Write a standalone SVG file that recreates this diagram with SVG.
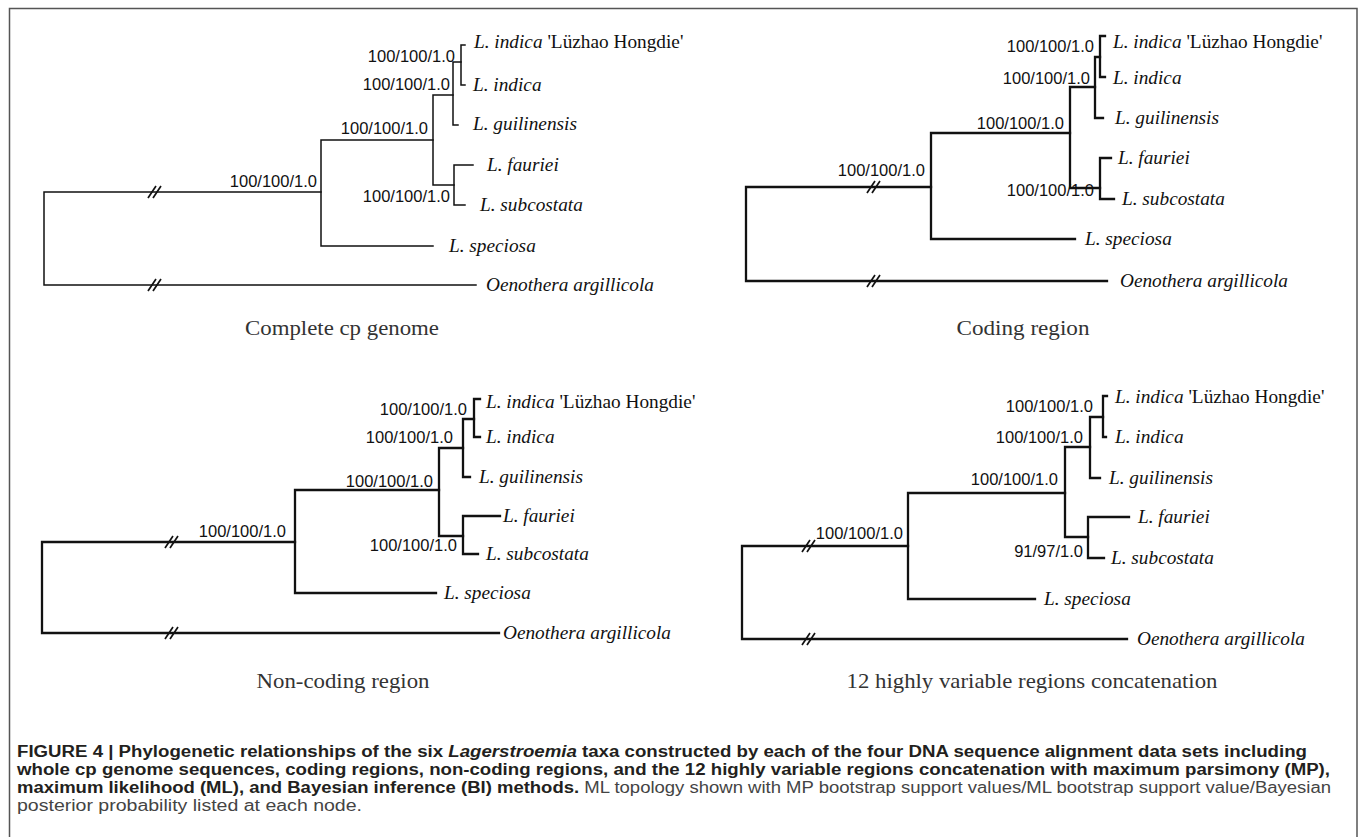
<svg xmlns="http://www.w3.org/2000/svg" width="1360" height="837" viewBox="0 0 1360 837">
<style>
.bg{fill:#fff}
.frame{fill:none;stroke:#555;stroke-width:1.5}
.br1{fill:none;stroke:#111;stroke-width:1.5;stroke-linecap:square}
.br2{fill:none;stroke:#111;stroke-width:2.3;stroke-linecap:square}
.brk{fill:none;stroke:#111;stroke-width:1.7}
.tax{font-family:"Liberation Serif",serif;font-size:19.3px;fill:#111}
.it{font-style:italic}
.sup{font-family:"Liberation Sans",sans-serif;font-size:16.5px;fill:#111;text-anchor:end}
.ttl{font-family:"Liberation Serif",serif;font-size:22px;fill:#333;text-anchor:middle}
.cap{font-family:"Liberation Sans",sans-serif;font-size:16px;fill:#231f20}
.b{font-weight:bold}
.r{fill:#444}
</style>
<rect class="bg" x="0" y="0" width="1360" height="837"/>
<path class="frame" d="M9.5,837 V8.5 H1357 V837"/>

<g id="connectors">
  <g id="t1-edges" class="br1">
    <path d="M44,192 V285 M44,192 H321 M44,285 H476"/>
    <path d="M321,140 V246 M321,140 H433 M321,246 H433"/>
    <path d="M433,95 V185 M433,95 H453 M433,185 H454"/>
    <path d="M453,62 V125 M453,125 H458 M453,62 H461"/>
    <path d="M461,45 V85 M461,45 H465 M461,85 H465"/>
    <path d="M454,165 V205 M454,165 H473 M454,205 H465"/>
  </g>
  <g id="t1-breaks" class="brk">
    <path d="M148,198 L156,186 M153,198 L161,186"/>
    <path d="M148,291 L156,279 M153,291 L161,279"/>
  </g>
  <g id="t2-edges" class="br2">
    <path d="M746,187 V281 M746,187 H931 M746,281 H1107"/>
    <path d="M931,133 V239 M931,133 H1070 M931,239 H1075"/>
    <path d="M1070,87 V188 M1070,87 H1095 M1070,188 H1100"/>
    <path d="M1095,57 V118 M1095,118 H1103 M1095,57 H1100"/>
    <path d="M1100,36 V77 M1100,36 H1105 M1100,77 H1105"/>
    <path d="M1100,158 V199 M1100,158 H1111 M1100,199 H1114"/>
  </g>
  <g id="t2-breaks" class="brk">
    <path d="M867,193 L875,181 M872,193 L880,181"/>
    <path d="M867,287 L875,275 M872,287 L880,275"/>
  </g>
  <g id="t3-edges" class="br2">
    <path d="M42,542 V633 M42,542 H295 M42,633 H499"/>
    <path d="M295,490 V593 M295,490 H439 M295,593 H436"/>
    <path d="M439,448 V536 M439,448 H463 M439,536 H463"/>
    <path d="M463,419 V477 M463,477 H470 M463,419 H474"/>
    <path d="M474,399 V437 M474,399 H480 M474,437 H480"/>
    <path d="M463,516 V554 M463,516 H500 M463,554 H478"/>
  </g>
  <g id="t3-breaks" class="brk">
    <path d="M165,548 L173,536 M170,548 L178,536"/>
    <path d="M165,639 L173,627 M170,639 L178,627"/>
  </g>
  <g id="t4-edges" class="br2">
    <path d="M742,546 V639 M742,546 H908 M742,639 H1127"/>
    <path d="M908,493 V599 M908,493 H1065 M908,599 H1035"/>
    <path d="M1065,447 V537 M1065,447 H1090 M1065,537 H1088"/>
    <path d="M1090,417 V478 M1090,478 H1100 M1090,417 H1103"/>
    <path d="M1103,396 V437 M1103,396 H1107 M1103,437 H1106"/>
    <path d="M1088,517 V558 M1088,517 H1129 M1088,558 H1104"/>
  </g>
  <g id="t4-breaks" class="brk">
    <path d="M802,552 L810,540 M807,552 L815,540"/>
    <path d="M802,645 L810,633 M807,645 L815,633"/>
  </g>
</g>

<g id="tree1-labels">
  <g id="t1-lh"><text class="tax" x="474" y="48"><tspan class="it">L. indica</tspan> 'Lüzhao Hongdie'</text></g>
  <g id="t1-li"><text class="tax it" x="473" y="91">L. indica</text></g>
  <g id="t1-lg"><text class="tax it" x="473" y="130">L. guilinensis</text></g>
  <g id="t1-lf"><text class="tax it" x="487" y="171">L. fauriei</text></g>
  <g id="t1-ls"><text class="tax it" x="480" y="211">L. subcostata</text></g>
  <g id="t1-lsp"><text class="tax it" x="449" y="252">L. speciosa</text></g>
  <g id="t1-oa"><text class="tax it" x="486" y="291">Oenothera argillicola</text></g>
  <g id="t1-support">
    <text class="sup" x="317" y="187">100/100/1.0</text>
    <text class="sup" x="428" y="134">100/100/1.0</text>
    <text class="sup" x="455" y="62">100/100/1.0</text>
    <text class="sup" x="450" y="90">100/100/1.0</text>
    <text class="sup" x="450" y="202">100/100/1.0</text>
  </g>
  <g id="t1-title"><text class="ttl" x="342" y="335" textLength="194" lengthAdjust="spacingAndGlyphs">Complete cp genome</text></g>
</g>

<g id="tree2-labels">
  <g id="t2-lh"><text class="tax" x="1113" y="48"><tspan class="it">L. indica</tspan> 'Lüzhao Hongdie'</text></g>
  <g id="t2-li"><text class="tax it" x="1113" y="84">L. indica</text></g>
  <g id="t2-lg"><text class="tax it" x="1115" y="124">L. guilinensis</text></g>
  <g id="t2-lf"><text class="tax it" x="1118" y="164">L. fauriei</text></g>
  <g id="t2-ls"><text class="tax it" x="1122" y="205">L. subcostata</text></g>
  <g id="t2-lsp"><text class="tax it" x="1085" y="245">L. speciosa</text></g>
  <g id="t2-oa"><text class="tax it" x="1120" y="287">Oenothera argillicola</text></g>
  <g id="t2-support">
    <text class="sup" x="925" y="176">100/100/1.0</text>
    <text class="sup" x="1064" y="129">100/100/1.0</text>
    <text class="sup" x="1094" y="52">100/100/1.0</text>
    <text class="sup" x="1090" y="84">100/100/1.0</text>
    <text class="sup" x="1094" y="196">100/100/1.0</text>
  </g>
  <g id="t2-title"><text class="ttl" x="1023" y="335" textLength="133" lengthAdjust="spacingAndGlyphs">Coding region</text></g>
</g>

<g id="tree3-labels">
  <g id="t3-lh"><text class="tax" x="486" y="408"><tspan class="it">L. indica</tspan> 'Lüzhao Hongdie'</text></g>
  <g id="t3-li"><text class="tax it" x="486" y="443">L. indica</text></g>
  <g id="t3-lg"><text class="tax it" x="479" y="483">L. guilinensis</text></g>
  <g id="t3-lf"><text class="tax it" x="503" y="522">L. fauriei</text></g>
  <g id="t3-ls"><text class="tax it" x="486" y="560">L. subcostata</text></g>
  <g id="t3-lsp"><text class="tax it" x="444" y="599">L. speciosa</text></g>
  <g id="t3-oa"><text class="tax it" x="503" y="639">Oenothera argillicola</text></g>
  <g id="t3-support">
    <text class="sup" x="286" y="537">100/100/1.0</text>
    <text class="sup" x="433" y="487">100/100/1.0</text>
    <text class="sup" x="467" y="415">100/100/1.0</text>
    <text class="sup" x="453" y="443">100/100/1.0</text>
    <text class="sup" x="457" y="551">100/100/1.0</text>
  </g>
  <g id="t3-title"><text class="ttl" x="343" y="688" textLength="173" lengthAdjust="spacingAndGlyphs">Non-coding region</text></g>
</g>

<g id="tree4-labels">
  <g id="t4-lh"><text class="tax" x="1115" y="403"><tspan class="it">L. indica</tspan> 'Lüzhao Hongdie'</text></g>
  <g id="t4-li"><text class="tax it" x="1115" y="443">L. indica</text></g>
  <g id="t4-lg"><text class="tax it" x="1109" y="484">L. guilinensis</text></g>
  <g id="t4-lf"><text class="tax it" x="1138" y="523">L. fauriei</text></g>
  <g id="t4-ls"><text class="tax it" x="1111" y="564">L. subcostata</text></g>
  <g id="t4-lsp"><text class="tax it" x="1044" y="605">L. speciosa</text></g>
  <g id="t4-oa"><text class="tax it" x="1137" y="645">Oenothera argillicola</text></g>
  <g id="t4-support">
    <text class="sup" x="903" y="539">100/100/1.0</text>
    <text class="sup" x="1058" y="485">100/100/1.0</text>
    <text class="sup" x="1093" y="412">100/100/1.0</text>
    <text class="sup" x="1083" y="443">100/100/1.0</text>
    <text class="sup" x="1083" y="557">91/97/1.0</text>
  </g>
  <g id="t4-title"><text class="ttl" x="1032" y="688" textLength="371" lengthAdjust="spacingAndGlyphs">12 highly variable regions concatenation</text></g>
</g>

<g id="caption">
  <text class="cap b" x="17" y="757" textLength="1290" lengthAdjust="spacingAndGlyphs">FIGURE 4 | Phylogenetic relationships of the six <tspan font-style="italic">Lagerstroemia</tspan> taxa constructed by each of the four DNA sequence alignment data sets including</text>
  <text class="cap b" x="17" y="775" textLength="1313" lengthAdjust="spacingAndGlyphs">whole cp genome sequences, coding regions, non-coding regions, and the 12 highly variable regions concatenation with maximum parsimony (MP),</text>
  <text class="cap" x="17" y="793" textLength="1314" lengthAdjust="spacingAndGlyphs"><tspan class="b">maximum likelihood (ML), and Bayesian inference (BI) methods.</tspan><tspan class="r"> ML topology shown with MP bootstrap support values/ML bootstrap support value/Bayesian</tspan></text>
  <text class="cap r" x="17" y="811" textLength="345" lengthAdjust="spacingAndGlyphs">posterior probability listed at each node.</text>
</g>
</svg>
